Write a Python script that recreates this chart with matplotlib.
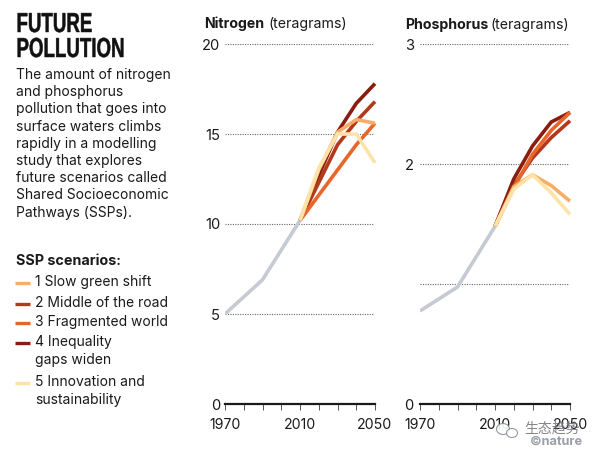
import matplotlib
matplotlib.use("Agg")
import matplotlib.pyplot as plt
from matplotlib.lines import Line2D
from matplotlib.patches import Ellipse
from matplotlib.patheffects import AbstractPathEffect
from matplotlib.transforms import Affine2D

W, H = 600, 455
FONT = ['Inter', 'DejaVu Sans']
plt.rcParams['font.family'] = FONT

# Data
hist_years = [1970, 1990, 2010]
future_years = [2010, 2020, 2030, 2040, 2050]
n_hist = [5.0, 6.9, 10.2]
p_hist = [0.775, 0.975, 1.48]
n_ssp1 = [10.2, 13.0, 15.1, 15.8, 15.6]
n_ssp2 = [10.2, 12.3, 14.4, 15.7, 16.8]
n_ssp3 = [10.2, 11.6, 13.0, 14.4, 15.6]
n_ssp4 = [10.2, 12.7, 15.1, 16.7, 17.8]
n_ssp5 = [10.2, 13.1, 15.0, 15.0, 13.4]
p_ssp1 = [1.48, 1.81, 1.91, 1.82, 1.69]
p_ssp2 = [1.48, 1.82, 2.05, 2.22, 2.36]
p_ssp3 = [1.48, 1.80, 2.08, 2.28, 2.43]
p_ssp4 = [1.48, 1.875, 2.15, 2.35, 2.43]
p_ssp5 = [1.48, 1.79, 1.91, 1.76, 1.58]
colors = {'1': '#F6AE66', '2': '#B23A1B', '3': '#E8662A', '4': '#8A1C10', '5': '#FDE3A8'}
legend_labels = ['1 Slow green shift', '2 Middle of the road', '3 Fragmented world',
                 '4 Inequality\ngaps widen', '5 Innovation and\nsustainability']
n_ticks = [0, 5, 10, 15, 20]
p_ticks = [0, 1, 2, 3]
p_labels = ['0', '', '2', '3']
x_labels = [1970, 2010, 2050]
GREY = '#C6CAD2'
INK = '#1a1a1a'

fig = plt.figure(figsize=(W / 100, H / 100), dpi=100, facecolor='white')


def fx(x):
    return x / W


def fy(y):
    return 1 - y / H


class Squeeze(AbstractPathEffect):
    """Narrow and embolden a text about its left edge (condensed headline look)."""

    def __init__(self, x_px, factor, stroke):
        super().__init__()
        self.x_px = x_px
        self.factor = factor
        self.stroke = stroke

    def draw_path(self, renderer, gc, tpath, affine, rgbFace=None):
        t = affine + Affine2D().translate(-self.x_px, 0).scale(self.factor, 1).translate(self.x_px, 0)
        gc0 = renderer.new_gc()
        gc0.copy_properties(gc)
        gc0.set_linewidth(self.stroke)
        gc0.set_foreground(rgbFace)
        renderer.draw_path(gc0, tpath, t, rgbFace)
        gc0.restore()


def panel(left, ymax, ticks, labels, hist, series, ypad):
    ax = fig.add_axes([fx(left), fy(404), 150 / W, 360 / H])
    ax.set_xlim(1970, 2050)
    ax.set_ylim(0, ymax)
    ax.patch.set_alpha(0)
    for s in ['top', 'right', 'left']:
        ax.spines[s].set_visible(False)
    ax.spines['bottom'].set_linewidth(1.6)
    ax.spines['bottom'].set_color(INK)
    for t in ticks[1:]:
        ax.axhline(t, xmin=0, xmax=0.99, color='#666666', lw=0.8, ls=(0, (1, 1.2)), zorder=1)
    ax.set_yticks(ticks)
    ax.set_yticklabels(labels, fontsize=10.6, color=INK)
    ax.tick_params(axis='y', length=0, pad=ypad)
    ax.set_xticks(range(1970, 2051, 10))
    ax.set_xticklabels([str(y) if y in x_labels else '' for y in range(1970, 2051, 10)],
                       fontsize=10.2, color=INK)
    ax.tick_params(axis='x', length=4.3, width=0.7, color='#555555', pad=5.5)
    ax.plot(hist_years, hist, color=GREY, lw=2.6, zorder=2, solid_capstyle='butt', solid_joinstyle='round')
    for k in ['4', '2', '3', '1', '5']:
        ax.plot(future_years, series[k], color=colors[k], lw=2.6, zorder=3,
                solid_capstyle='butt', solid_joinstyle='miter', clip_on=False)
    return ax


panel(225, 20, n_ticks, [str(t) for t in n_ticks], n_hist,
      {'1': n_ssp1, '2': n_ssp2, '3': n_ssp3, '4': n_ssp4, '5': n_ssp5}, 3.5)
panel(420, 3, p_ticks, p_labels, p_hist,
      {'1': p_ssp1, '2': p_ssp2, '3': p_ssp3, '4': p_ssp4, '5': p_ssp5}, 4.5)

# Panel headers
fig.text(fx(204), fy(24), 'Nitrogen', fontsize=10.2, fontweight='bold', color=INK, va='center')
fig.text(fx(268), fy(24), '(teragrams)', fontsize=10.2, color=INK, va='center')
fig.text(fx(405), fy(25), 'Phosphorus', fontsize=10.2, fontweight='bold', color=INK, va='center')
fig.text(fx(491), fy(25), '(teragrams)', fontsize=10.2, color=INK, va='center')

# Title block
title_font = ['Liberation Sans', 'DejaVu Sans']
fig.text(fx(16.5), fy(25), 'FUTURE', fontsize=19.8, fontweight='bold', family=title_font, color='#111111',
         va='center', path_effects=[Squeeze(16.5, 0.68, 0.35)])
fig.text(fx(16.5), fy(50), 'POLLUTION', fontsize=19.8, fontweight='bold', family=title_font, color='#111111',
         va='center', path_effects=[Squeeze(16.5, 0.68, 0.35)])
body = ['The amount of nitrogen', 'and phosphorus', 'pollution that goes into',
        'surface waters climbs', 'rapidly in a modelling', 'study that explores',
        'future scenarios called', 'Shared Socioeconomic', 'Pathways (SSPs).']
for i, line in enumerate(body):
    fig.text(fx(16), fy(75 + i * 17.2), line, fontsize=10, color=INK, va='center')

# Legend
fig.text(fx(16), fy(261), 'SSP scenarios:', fontsize=10.3, fontweight='bold', color=INK, va='center')
legend_y = [282, 303, 322, 342, 382]
for lab, k, y in zip(legend_labels, colors, legend_y):
    fig.add_artist(Line2D([fx(15), fx(30)], [fy(y + 1), fy(y + 1)], color=colors[k], lw=2.4,
                          transform=fig.transFigure, solid_capstyle='butt'))
    for j, part in enumerate(lab.split('\n')):
        fig.text(fx(35), fy(y + j * 17.8), part, fontsize=10, color=INK, va='center')

# Watermark
wm = '#9A9FA8'
for cx, cy, w_, h_ in [(503, 429, 13, 11), (512, 433, 11, 9)]:
    fig.add_artist(Ellipse((fx(cx), fy(cy)), w_ / W, h_ / H, transform=fig.transFigure,
                           facecolor='white', edgecolor='#8a8f96', lw=0.8, alpha=0.9, zorder=5))
fig.text(fx(552), fy(429), '生态趋势', fontsize=10, family=['Noto Sans CJK SC', 'DejaVu Sans'],
         color='#77797D', va='center', ha='center', alpha=0.9, zorder=6)
fig.text(fx(556), fy(442), '©nature', fontsize=9.2, fontweight='bold', color=wm, va='center', ha='center', zorder=6)

fig.savefig('out.png', dpi=100, facecolor='white')
